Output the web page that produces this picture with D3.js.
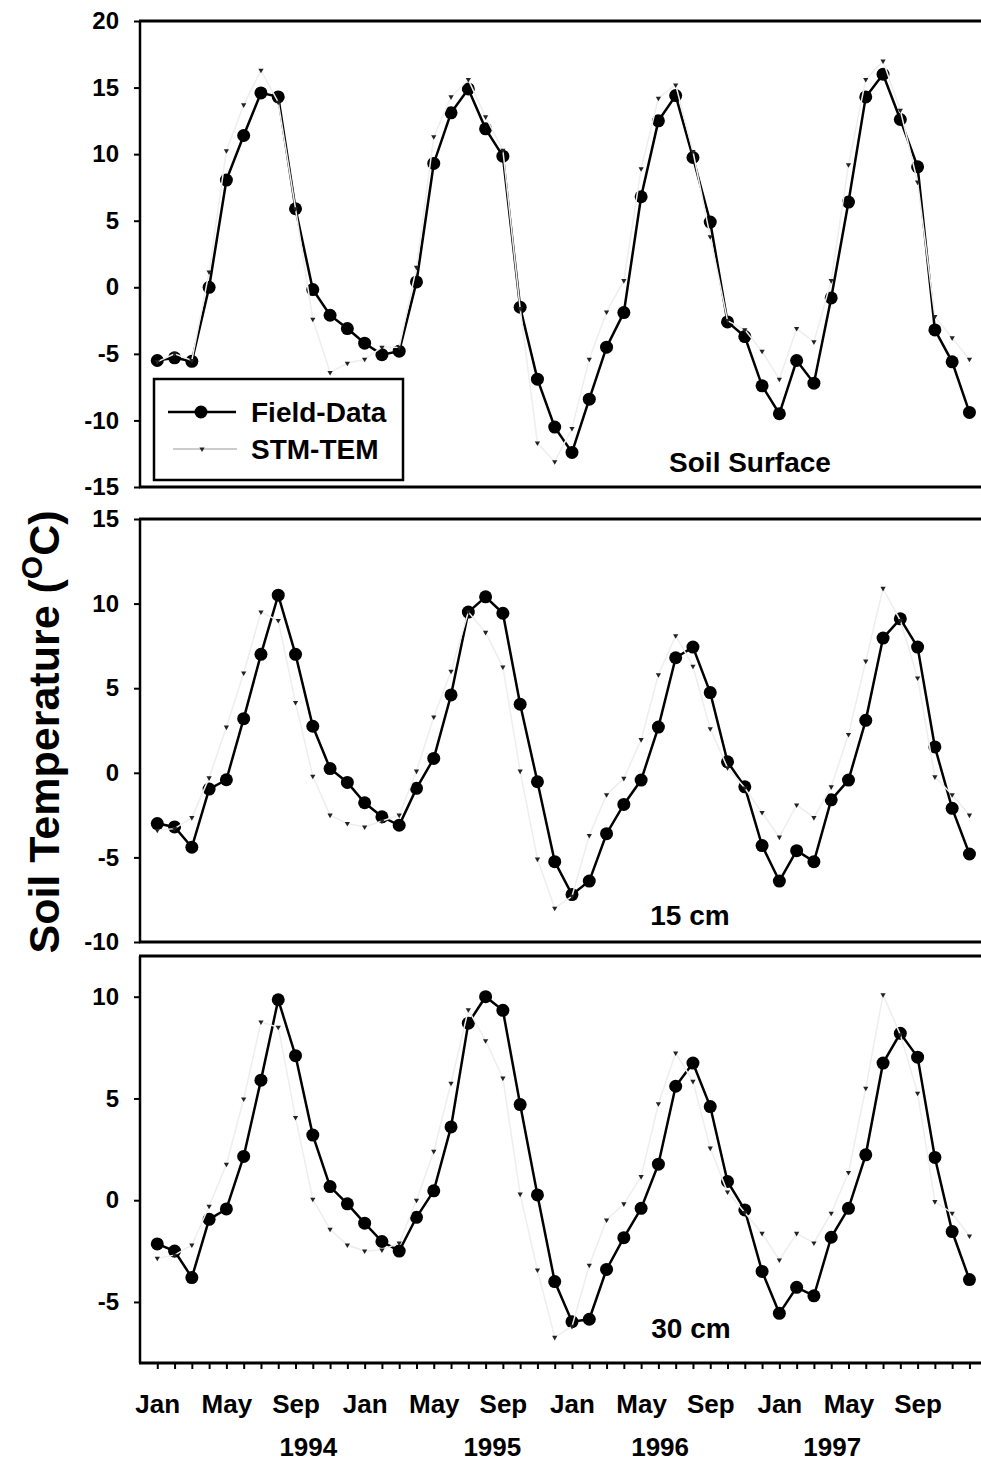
<!DOCTYPE html>
<html>
<head>
<meta charset="utf-8">
<script src="https://cdn.jsdelivr.net/npm/d3@7"></script>
<style>
  body { margin: 0; background: #fff; }
  svg { display: block; font-family: "Liberation Sans", Arial, sans-serif; font-weight: bold; }
</style>
</head>
<body>
<svg id="chart" width="981" height="1462"></svg>
<script>
// months Jan 1994 .. Dec 1997, one value per month
var monthLabels = ['Jan', 'May', 'Sep'];
var yearLabels = ['1994', '1995', '1996', '1997'];
var yearLabelPos = [8.74, 19.39, 29.1, 39.06]; // month offsets where the year text sits

var surfField = [-5.5, -5.3, -5.56, 0.0, 8.05, 11.4, 14.6, 14.3, 5.9, -0.17, -2.1, -3.1,
  -4.2, -5.06, -4.8, 0.4, 9.3, 13.1, 14.9, 11.9, 9.85, -1.5, -6.9, -10.5,
  -12.4, -8.4, -4.5, -1.9, 6.8, 12.5, 14.4, 9.75, 4.9, -2.6, -3.7, -7.4,
  -9.5, -5.5, -7.2, -0.8, 6.4, 14.3, 16.0, 12.6, 9.05, -3.2, -5.6, -9.4];
var surfSTM = [-5.6, -5.0, -5.5, 1.15, 10.25, 13.7, 16.3, 13.9, 5.9, -2.4, -6.4, -5.7,
  -5.4, -4.5, -4.5, 1.5, 11.3, 14.3, 15.6, 12.8, 10.3, -1.6, -11.7, -13.1,
  -10.6, -5.4, -1.86, 0.5, 8.9, 14.2, 15.2, 10.2, 3.8, -2.5, -3.2, -4.8,
  -6.9, -3.1, -4.1, 0.5, 9.2, 15.6, 17.0, 13.3, 7.9, -2.2, -3.8, -5.4];

var midField = [-3.0, -3.2, -4.4, -0.96, -0.41, 3.2, 7.0, 10.5, 7.0, 2.75, 0.25, -0.57,
  -1.77, -2.6, -3.1, -0.92, 0.85, 4.6, 9.5, 10.4, 9.43, 4.05, -0.53, -5.25,
  -7.2, -6.4, -3.6, -1.87, -0.43, 2.7, 6.8, 7.43, 4.74, 0.65, -0.83, -4.3,
  -6.4, -4.6, -5.25, -1.6, -0.43, 3.1, 7.96, 9.1, 7.43, 1.53, -2.1, -4.8];
var midSTM = [-3.4, -3.3, -2.65, -0.3, 2.7, 5.9, 9.5, 9.0, 4.15, -0.2, -2.5, -3.0,
  -3.2, -2.85, -2.5, 0.1, 3.3, 6.0, 9.5, 8.3, 6.25, 0.1, -5.1, -8.0,
  -7.3, -3.7, -1.3, -0.33, 1.96, 5.8, 8.1, 6.3, 2.6, 0.3, -0.9, -2.35,
  -3.8, -1.9, -2.65, -0.83, 2.26, 6.6, 10.9, 9.0, 5.6, -0.24, -1.3, -2.5];

var botField = [-2.15, -2.5, -3.8, -0.94, -0.43, 2.15, 5.9, 9.85, 7.1, 3.2, 0.67, -0.18,
  -1.13, -2.03, -2.5, -0.84, 0.46, 3.6, 8.7, 10.0, 9.33, 4.7, 0.26, -4.0,
  -5.97, -5.85, -3.4, -1.84, -0.4, 1.77, 5.6, 6.74, 4.6, 0.92, -0.48, -3.5,
  -5.56, -4.28, -4.7, -1.82, -0.4, 2.23, 6.74, 8.2, 7.03, 2.1, -1.54, -3.9];
var botSTM = [-2.85, -2.7, -2.2, -0.3, 1.77, 4.97, 8.76, 8.5, 4.06, 0.05, -1.43, -2.2,
  -2.5, -2.45, -2.1, 0.0, 2.4, 5.75, 9.36, 7.84, 6.0, 0.3, -3.43, -6.74,
  -6.2, -3.2, -0.97, -0.18, 1.16, 4.74, 7.23, 5.84, 2.56, 0.4, -0.6, -1.63,
  -2.94, -1.63, -2.1, -0.64, 1.36, 5.5, 10.1, 8.13, 5.26, -0.07, -0.64, -1.76];

var panels = [
  { field: surfField, stm: surfSTM, domain: [-15, 20], ticks: [-15, -10, -5, 0, 5, 10, 15, 20],
    top: 21, bottom: 487, label: 'Soil Surface', labelX: 750, labelY: 472 },
  { field: midField, stm: midSTM, domain: [-10, 15], ticks: [-10, -5, 0, 5, 10, 15],
    top: 519, bottom: 942, label: '15 cm', labelX: 690, labelY: 925 },
  { field: botField, stm: botSTM, domain: [-8, 12], ticks: [-5, 0, 5, 10],
    top: 956, bottom: 1363, label: '30 cm', labelX: 691, labelY: 1338 }
];

var svg = d3.select('#chart');
var left = 140;
var right = 981;
var nMonths = surfField.length;

// month index -> x ; index 0 (Jan 1994) sits one month in from the axis
var x = d3.scaleLinear().domain([-1, 48]).range([left, left + 49 * 17.28]);

var stmTri = d3.symbol().type(d3.symbolTriangle).size(12);

panels.forEach(function(p) {
  var y = d3.scaleLinear().domain(p.domain).range([p.bottom, p.top]);
  var g = svg.append('g');

  // frame: left axis + top and bottom rules
  g.append('line').attr('x1', left).attr('x2', left).attr('y1', p.top).attr('y2', p.bottom)
    .attr('stroke', '#000').attr('stroke-width', 2.5);
  g.append('line').attr('x1', left - 1).attr('x2', right).attr('y1', p.top).attr('y2', p.top)
    .attr('stroke', '#000').attr('stroke-width', 3);
  g.append('line').attr('x1', left - 1).attr('x2', right).attr('y1', p.bottom).attr('y2', p.bottom)
    .attr('stroke', '#000').attr('stroke-width', 3);

  var yAxis = g.append('g')
    .attr('transform', `translate(${left},0)`)
    .call(d3.axisLeft(y).tickValues(p.ticks).tickSize(6).tickPadding(15)
      .tickFormat(d => String(d)));
  yAxis.select('.domain').remove();
  yAxis.selectAll('line').attr('stroke-width', 2);
  yAxis.selectAll('text')
    .attr('font-size', 24).attr('font-weight', 'bold')
    .attr('font-family', '"Liberation Sans", Arial, sans-serif')
    .attr('fill', '#000');

  var idx = d3.range(nMonths);

  // Field-Data
  var fieldLine = d3.line().x(i => x(i)).y(i => y(p.field[i]));
  g.append('path').attr('d', fieldLine(idx))
    .attr('fill', 'none').attr('stroke', '#000').attr('stroke-width', 2.5);
  g.selectAll('.dot').data(idx).enter().append('circle')
    .attr('class', 'dot')
    .attr('cx', i => x(i)).attr('cy', i => y(p.field[i]))
    .attr('r', 6.5).attr('fill', '#000');

  // STM-TEM: very light line drawn over the field data, small dark markers
  var stmLine = d3.line().x(i => x(i)).y(i => y(p.stm[i]));
  g.append('path').attr('d', stmLine(idx))
    .attr('fill', 'none').attr('stroke', '#eeeeee').attr('stroke-width', 1.5);
  g.selectAll('.stm').data(idx).enter().append('path')
    .attr('class', 'stm')
    .attr('d', stmTri)
    .attr('transform', i => `translate(${x(i)},${y(p.stm[i])}) rotate(180)`)
    .attr('fill', '#222');

  g.append('text').attr('x', p.labelX).attr('y', p.labelY)
    .attr('text-anchor', 'middle').attr('font-size', 28).text(p.label);
});

// bottom month axis
var last = panels[panels.length - 1];
var xAxis = svg.append('g')
  .attr('transform', `translate(0,${last.bottom})`)
  .call(d3.axisBottom(x).tickValues(d3.range(nMonths)).tickSize(6).tickPadding(26)
    .tickFormat(i => (i % 4 === 0 ? monthLabels[(i / 4) % 3] : '')));
xAxis.select('.domain').remove();
xAxis.selectAll('line').attr('stroke-width', 2);
xAxis.selectAll('text')
  .attr('font-size', 26).attr('font-weight', 'bold')
  .attr('font-family', '"Liberation Sans", Arial, sans-serif')
  .attr('fill', '#000');

svg.selectAll('.year').data(yearLabels).enter().append('text')
  .attr('class', 'year')
  .attr('x', (d, i) => x(yearLabelPos[i]))
  .attr('y', 1456)
  .attr('text-anchor', 'middle').attr('font-size', 26)
  .text(d => d);

// y title
var title = svg.append('text')
  .attr('transform', 'translate(59,732) rotate(-90)')
  .attr('text-anchor', 'middle').attr('font-size', 43);
title.append('tspan').text('Soil Temperature (');
title.append('tspan').attr('font-size', 30).attr('dy', -17).text('O');
title.append('tspan').attr('dy', 17).text('C)');

// legend
var leg = svg.append('g');
leg.append('rect').attr('x', 154).attr('y', 379).attr('width', 249).attr('height', 101)
  .attr('fill', '#fff').attr('stroke', '#000').attr('stroke-width', 2.5);
leg.append('line').attr('x1', 168).attr('x2', 236).attr('y1', 412).attr('y2', 412)
  .attr('stroke', '#000').attr('stroke-width', 2.5);
leg.append('circle').attr('cx', 201).attr('cy', 412).attr('r', 6.5).attr('fill', '#000');
leg.append('line').attr('x1', 173).attr('x2', 237).attr('y1', 449).attr('y2', 449)
  .attr('stroke', '#999').attr('stroke-width', 1);
leg.append('path').attr('d', stmTri)
  .attr('transform', 'translate(202,449) rotate(180)').attr('fill', '#222');
leg.append('text').attr('x', 251).attr('y', 422).attr('font-size', 28).text('Field-Data');
leg.append('text').attr('x', 251).attr('y', 459).attr('font-size', 28).text('STM-TEM');
</script>
</body>
</html>
